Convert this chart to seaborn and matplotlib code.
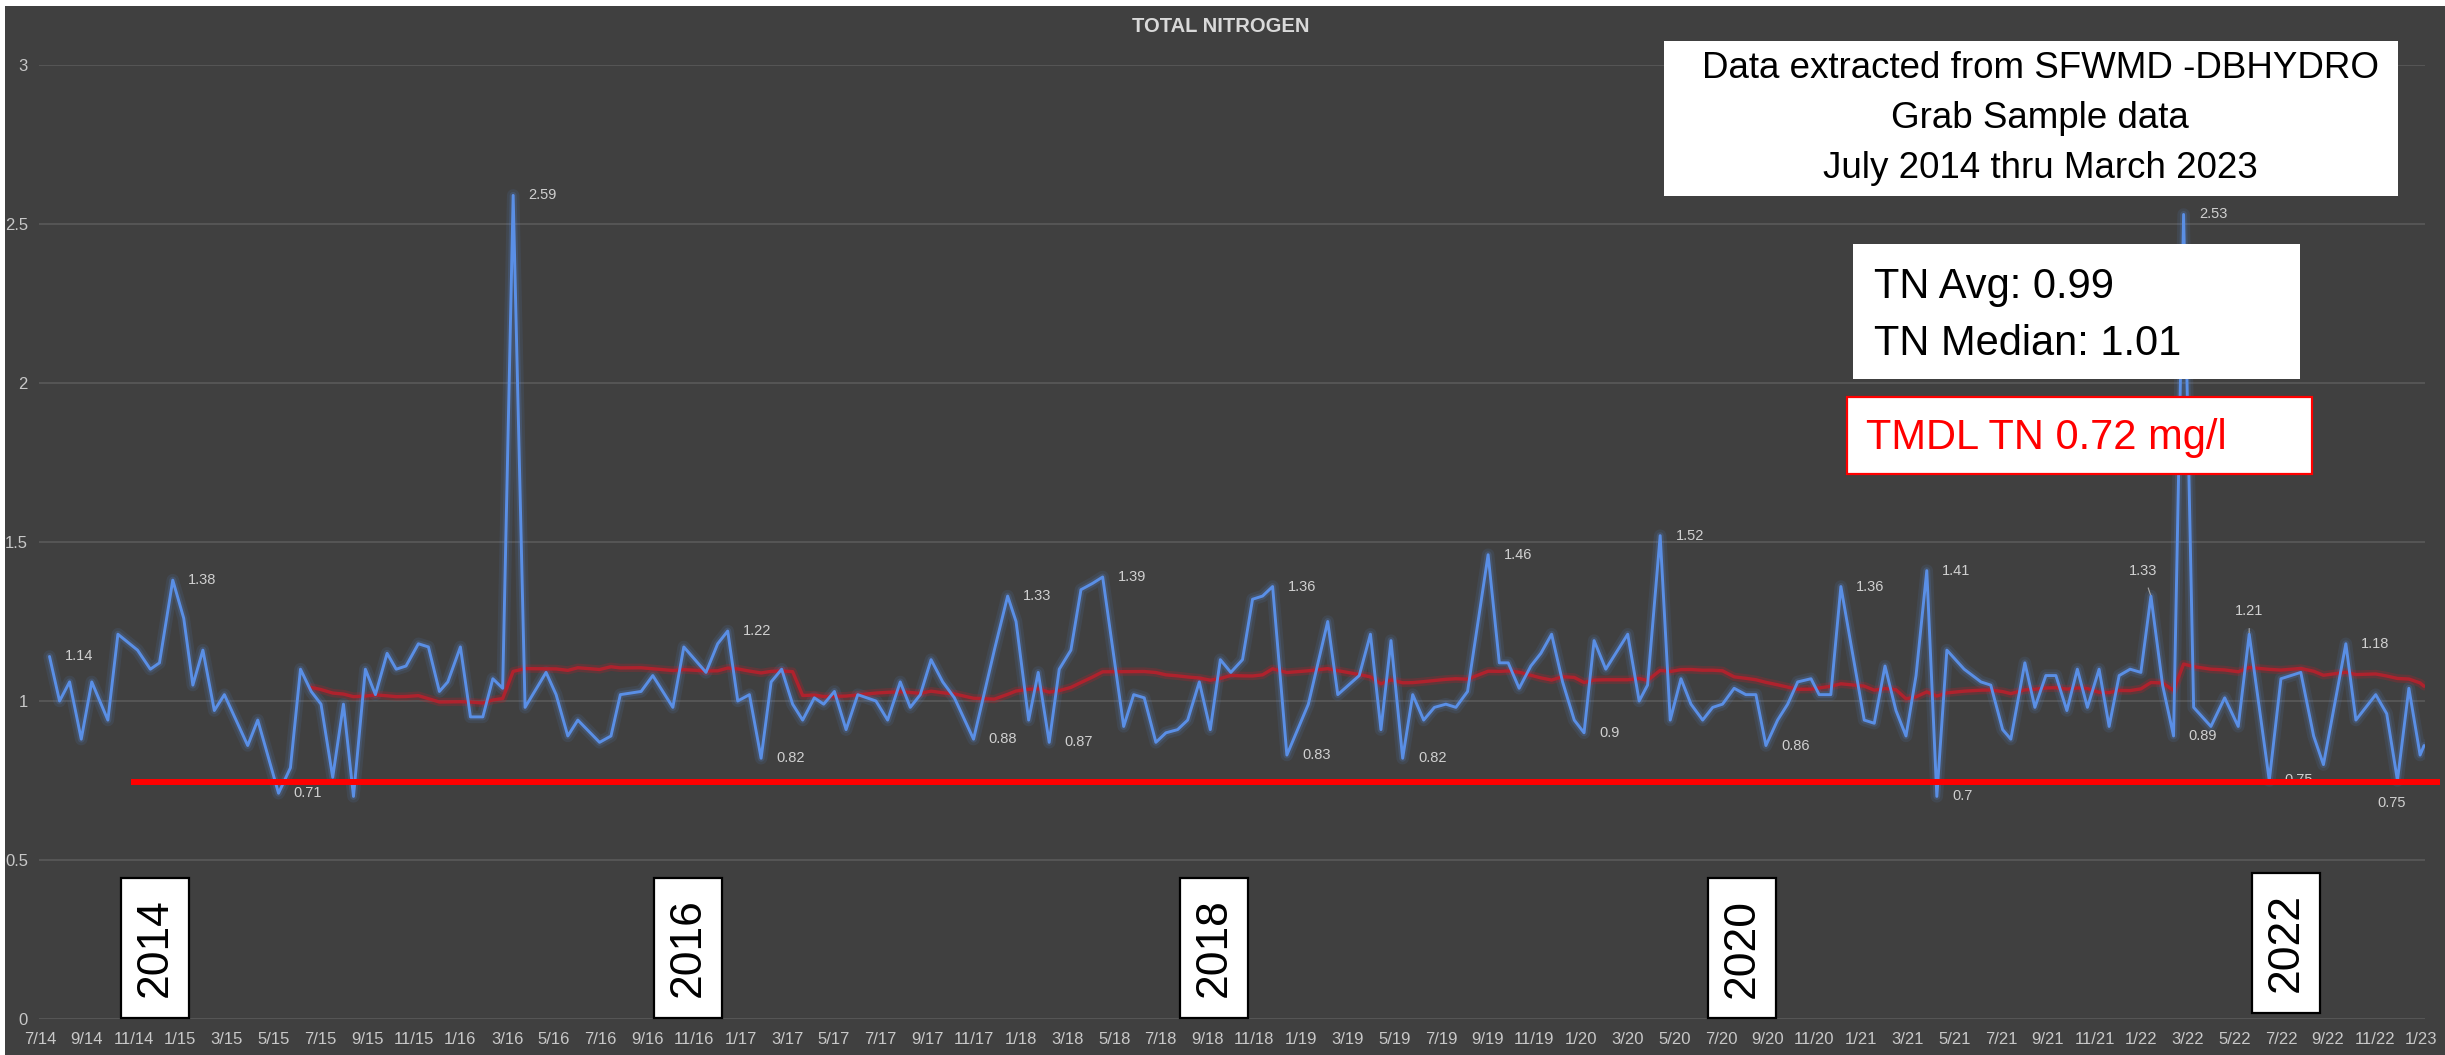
import matplotlib
matplotlib.use("Agg")
import matplotlib.pyplot as plt
from matplotlib.patches import Rectangle
import pandas as pd
import seaborn as sns

# sample position in months after 1 July 2014
months = [
    0.40, 0.83, 1.26, 1.76, 2.21, 2.90, 3.33, 4.17, 4.72, 5.11,
    5.68, 6.15, 6.54, 6.97, 7.46, 7.89, 8.89, 9.32, 10.21, 10.72,
    11.15, 11.61, 12.03, 12.53, 12.99, 13.42, 13.93, 14.36, 14.86, 15.25,
    15.67, 16.20, 16.63, 17.10, 17.46, 18.00, 18.43, 18.96, 19.39, 19.81,
    20.26, 20.77, 21.67, 22.10, 22.60, 23.03, 23.96, 24.45, 24.85, 25.74,
    26.24, 27.10, 27.57, 28.52, 29.02, 29.45, 29.88, 30.38, 30.88, 31.31,
    31.76, 32.23, 32.66, 33.16, 33.56, 34.02, 34.52, 35.02, 35.80, 36.30,
    36.84, 37.27, 37.70, 38.16, 38.66, 39.16, 39.98, 40.87, 41.44, 41.80,
    42.34, 42.75, 43.22, 43.65, 44.15, 44.58, 45.08, 45.51, 46.41, 46.84,
    47.29, 47.79, 48.22, 48.72, 49.15, 49.65, 50.12, 50.55, 51.00, 51.50,
    51.93, 52.36, 52.79, 53.40, 54.32, 55.15, 55.58, 56.50, 56.98, 57.43,
    57.86, 58.36, 58.79, 59.26, 59.72, 60.21, 60.64, 61.14, 62.02, 62.50,
    62.88, 63.35, 63.85, 64.28, 64.74, 65.21, 65.71, 66.13, 66.56, 67.06,
    68.00, 68.49, 68.85, 69.39, 69.82, 70.28, 70.71, 71.21, 71.64, 72.06,
    72.56, 73.06, 73.49, 73.92, 74.42, 74.85, 75.28, 75.85, 76.20, 76.70,
    77.13, 78.13, 78.56, 79.02, 79.49, 79.92, 80.35, 80.81, 81.24, 81.67,
    82.41, 83.13, 83.55, 84.06, 84.41, 85.01, 85.44, 85.91, 86.34, 86.81,
    87.26, 87.69, 88.19, 88.62, 89.05, 89.52, 89.98, 90.41, 90.91, 91.38,
    91.81, 92.24, 92.98, 93.57, 94.15, 94.62, 95.48, 95.98, 96.83, 97.38,
    97.80, 98.76, 99.19, 100.04, 100.51, 100.97, 101.46, 101.94, 102.11,
]

# total nitrogen, mg/l
tn = [
    1.14, 1.00, 1.06, 0.88, 1.06, 0.94, 1.21, 1.16, 1.10, 1.12,
    1.38, 1.26, 1.05, 1.16, 0.97, 1.02, 0.86, 0.94, 0.71, 0.79,
    1.10, 1.03, 0.99, 0.76, 0.99, 0.70, 1.10, 1.02, 1.15, 1.10,
    1.11, 1.18, 1.17, 1.03, 1.06, 1.17, 0.95, 0.95, 1.07, 1.04,
    2.59, 0.98, 1.09, 1.02, 0.89, 0.94, 0.87, 0.89, 1.02, 1.03,
    1.08, 0.98, 1.17, 1.09, 1.18, 1.22, 1.00, 1.02, 0.82, 1.06,
    1.10, 0.99, 0.94, 1.01, 0.99, 1.03, 0.91, 1.02, 1.00, 0.94,
    1.06, 0.98, 1.02, 1.13, 1.06, 1.01, 0.88, 1.16, 1.33, 1.25,
    0.94, 1.09, 0.87, 1.10, 1.16, 1.35, 1.37, 1.39, 0.92, 1.02,
    1.01, 0.87, 0.90, 0.91, 0.94, 1.06, 0.91, 1.13, 1.09, 1.13,
    1.32, 1.33, 1.36, 0.83, 0.99, 1.25, 1.02, 1.08, 1.21, 0.91,
    1.19, 0.82, 1.02, 0.94, 0.98, 0.99, 0.98, 1.03, 1.46, 1.12,
    1.12, 1.04, 1.11, 1.15, 1.21, 1.06, 0.94, 0.90, 1.19, 1.10,
    1.21, 1.00, 1.05, 1.52, 0.94, 1.07, 0.99, 0.94, 0.98, 0.99,
    1.04, 1.02, 1.02, 0.86, 0.94, 0.99, 1.06, 1.07, 1.02, 1.02,
    1.36, 0.94, 0.93, 1.11, 0.97, 0.89, 1.08, 1.41, 0.70, 1.16,
    1.10, 1.06, 1.05, 0.91, 0.88, 1.12, 0.98, 1.08, 1.08, 0.97,
    1.10, 0.98, 1.10, 0.92, 1.08, 1.10, 1.09, 1.33, 1.05, 0.89,
    2.53, 0.98, 0.92, 1.01, 0.92, 1.21, 0.75, 1.07, 1.09, 0.89,
    0.80, 1.18, 0.94, 1.02, 0.96, 0.75, 1.04, 0.83, 0.86,
]

# points that carry a data label
labeled = [0, 10, 18, 40, 55, 58, 76, 78, 82, 87, 102, 103, 111, 118, 127,
           133, 143, 150, 157, 158, 177, 179, 180, 185, 186, 191, 195]

tick_months = list(range(0, 103, 2))
tick_labels = [
    "7/14", "9/14", "11/14", "1/15", "3/15", "5/15", "7/15", "9/15", "11/15",
    "1/16", "3/16", "5/16", "7/16", "9/16", "11/16", "1/17", "3/17", "5/17",
    "7/17", "9/17", "11/17", "1/18", "3/18", "5/18", "7/18", "9/18", "11/18",
    "1/19", "3/19", "5/19", "7/19", "9/19", "11/19", "1/20", "3/20", "5/20",
    "7/20", "9/20", "11/20", "1/21", "3/21", "5/21", "7/21", "9/21", "11/21",
    "1/22", "3/22", "5/22", "7/22", "9/22", "11/22", "1/23",
]
y_ticks = [0, 0.5, 1, 1.5, 2, 2.5, 3]

ma_window = 22          # moving average trendline period
tmdl_drawn = 0.745      # level where the red TMDL line is drawn
years = ["2014", "2016", "2018", "2020", "2022"]

BG = "#404040"
BLUE = "#5a8fe6"
W, H = 2445, 1055

sns.set_style("dark")
plt.rcParams["font.family"] = ["Liberation Sans", "DejaVu Sans"]

fig = plt.figure(figsize=(W / 100, H / 100), dpi=100, facecolor=BG)
ax = fig.add_axes([39 / W, 1 - 1019 / H, (2425 - 39) / W, (1019 - 65) / H])
ax.set_facecolor(BG)

df = pd.DataFrame({"month": months, "tn": tn})
df["ma"] = df["tn"].rolling(ma_window).mean()
ma = df.dropna(subset=["ma"])

# glow under the measured series
sns.lineplot(data=df, x="month", y="tn", ax=ax, color=BLUE, lw=9, alpha=0.10,
             sort=False, estimator=None, zorder=2)
sns.lineplot(data=df, x="month", y="tn", ax=ax, color=BLUE, lw=5, alpha=0.18,
             sort=False, estimator=None, zorder=2)
# moving average trendline
sns.lineplot(data=ma, x="month", y="ma", ax=ax, color="#c0202a", lw=6, alpha=0.25,
             sort=False, estimator=None, zorder=2)
sns.lineplot(data=ma, x="month", y="ma", ax=ax, color="#b8202c", lw=2.4, alpha=0.9,
             sort=False, estimator=None, zorder=3)
sns.lineplot(data=df, x="month", y="tn", ax=ax, color=BLUE, lw=2.1,
             sort=False, estimator=None, zorder=3)

# TMDL line
ax.plot([3.9, 102.8], [tmdl_drawn, tmdl_drawn], color="#ff0000", lw=4.3,
        solid_capstyle="butt", clip_on=False, zorder=5)

ax.set_xlim(-0.05, 102.15)
ax.set_ylim(0, 3)
ax.set_xticks(tick_months)
ax.set_xticklabels(tick_labels)
ax.set_yticks(y_ticks)
ax.set_yticklabels([f"{t:g}" for t in y_ticks])
ax.set_xlabel("")
ax.set_ylabel("")
ax.grid(axis="y", color="#5a5a5a", lw=1.2)
ax.grid(axis="x", visible=False)
for s in ax.spines.values():
    s.set_visible(False)
ax.tick_params(axis="both", length=0, colors="#c8c8c8", labelsize=12)
ax.tick_params(axis="x", pad=9)
ax.tick_params(axis="y", pad=8)

# data labels
special = {177: (-6, 18, True), 185: (0, 16.5, True), 195: (-4, -16.5, False)}
for i in labeled:
    v = tn[i]
    if i in special:
        dx, dy, leader = special[i]
        ax.annotate(f"{v:g}", (months[i], v), xytext=(dx, dy),
                    textcoords="offset points", ha="center", va="center",
                    fontsize=10.5, color="#d0d0d0", zorder=4,
                    arrowprops=dict(arrowstyle="-", color="#a6a6a6", lw=0.8,
                                    shrinkA=5, shrinkB=1) if leader else None)
    else:
        ax.annotate(f"{v:g}", (months[i], v), xytext=(11, 0),
                    textcoords="offset points", ha="left", va="center",
                    fontsize=10.5, color="#d0d0d0", zorder=4)


def px_box(x0, y0, x1, y1, ec=None, lw=0):
    r = Rectangle((x0 / W, 1 - y1 / H), (x1 - x0) / W, (y1 - y0) / H,
                  transform=fig.transFigure, facecolor="white",
                  edgecolor=ec if ec else "white", lw=lw, zorder=10)
    fig.add_artist(r)


def px_text(x, y, s, **kw):
    fig.text(x / W, 1 - y / H, s, zorder=11, **kw)


# white strips at top / left edge
fig.add_artist(Rectangle((0, 1 - 6 / H), 1, 6 / H, transform=fig.transFigure,
                         facecolor="white", lw=0, zorder=10))
fig.add_artist(Rectangle((0, 0), 5 / W, 1, transform=fig.transFigure,
                         facecolor="white", lw=0, zorder=10))

# title
px_text(1221, 26, "TOTAL NITROGEN", ha="center", va="center", fontsize=14.5,
        fontweight="bold", color="#d9d9d9")

# source box
px_box(1664, 41, 2398, 196)
for yy, line in zip([69, 119, 169], ["Data extracted from SFWMD -DBHYDRO",
                                     "Grab Sample data",
                                     "July 2014 thru March 2023"]):
    px_text(2040, yy, line, ha="center", va="center", fontsize=26.5, color="black")

# stats box
px_box(1853, 244, 2300, 379)
px_text(1874, 287, "TN Avg: 0.99", ha="left", va="center", fontsize=30, color="black")
px_text(1874, 344, "TN Median: 1.01", ha="left", va="center", fontsize=30, color="black")

# TMDL box
px_box(1847, 397, 2312, 474, ec="#ff0000", lw=1.6)
px_text(1866, 438, "TMDL TN 0.72 mg/l", ha="left", va="center", fontsize=30,
        color="#ff0000")

# year boxes
year_cx = [155, 688, 1214, 1742, 2286]
for cx, yr in zip(year_cx, years):
    top = 873 if yr == "2022" else 878
    px_box(cx - 34, top, cx + 34, top + 140, ec="black", lw=1.6)
    px_text(cx, top + 70, yr, ha="center", va="center", rotation=90,
            fontsize=32, color="black")

fig.savefig("out.png", dpi=100, facecolor=BG)
